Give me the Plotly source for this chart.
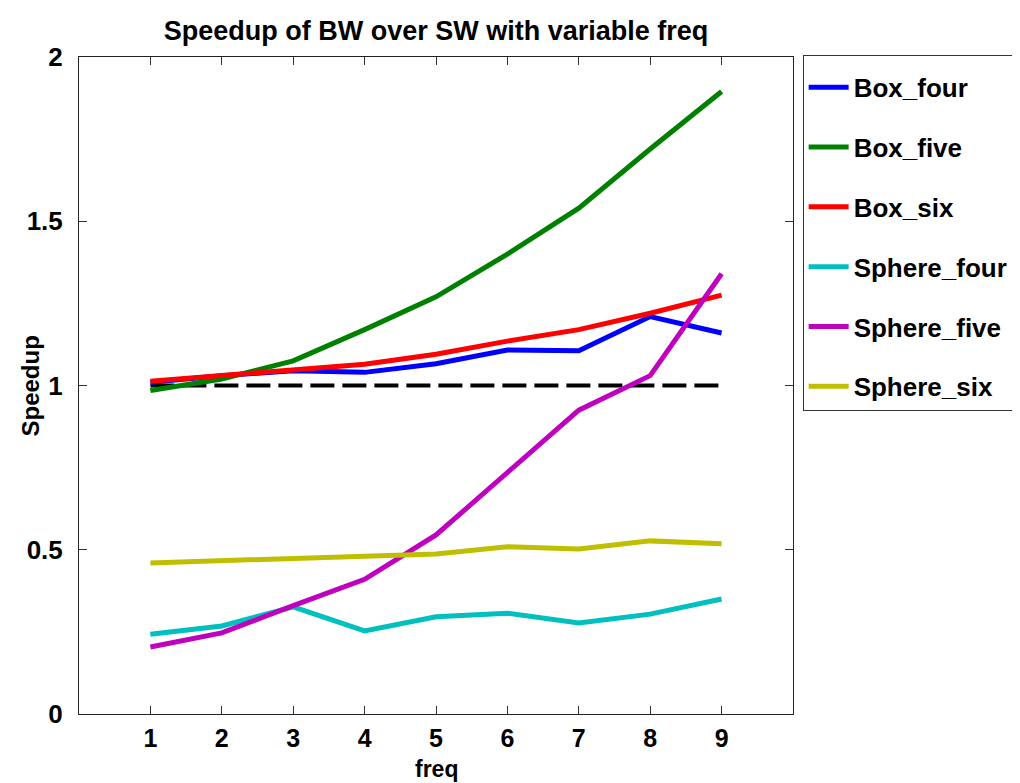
import plotly.graph_objects as go

freq = [1, 2, 3, 4, 5, 6, 7, 8, 9]
box_four = [1.01, 1.03, 1.045, 1.04, 1.066, 1.108, 1.106, 1.21, 1.16]
box_five = [0.985, 1.02, 1.075, 1.17, 1.27, 1.40, 1.54, 1.72, 1.895]
box_six = [1.013, 1.03, 1.045, 1.065, 1.095, 1.135, 1.17, 1.22, 1.275]
sphere_four = [0.243, 0.268, 0.326, 0.253, 0.296, 0.307, 0.277, 0.304, 0.350]
sphere_five = [0.204, 0.247, 0.330, 0.410, 0.545, 0.737, 0.925, 1.03, 1.34]
sphere_six = [0.46, 0.466, 0.475, 0.481, 0.487, 0.509, 0.502, 0.527, 0.518]
baseline = [1, 1, 1, 1, 1, 1, 1, 1, 1]

series = [
    ("Box_four", box_four, "#0000ff"),
    ("Box_five", box_five, "#008000"),
    ("Box_six", box_six, "#ff0000"),
    ("Sphere_four", sphere_four, "#00bfbf"),
    ("Sphere_five", sphere_five, "#bf00bf"),
    ("Sphere_six", sphere_six, "#bfbf00"),
]

FONT = "Liberation Sans, Arial, sans-serif"


def b(s):
    return f"<b>{s}</b>"


fig = go.Figure()
fig.add_trace(go.Scatter(x=freq, y=baseline, mode="lines", showlegend=False,
                         line=dict(color="black", width=4, dash="24px,8px")))
for i, (name, vals, col) in enumerate(series):
    fig.add_trace(go.Scatter(x=freq, y=vals, mode="lines", name=b(name),
                             legendgroup=f"g{i}",
                             line=dict(color=col, width=5)))

fig.update_layout(
    width=1020, height=783,
    paper_bgcolor="white", plot_bgcolor="white",
    margin=dict(l=71, r=235, t=49, b=77),
    title=dict(text=b("Speedup of BW over SW with variable freq"), x=(436 - 8) / 1020, xanchor="center",
               y=1 - 23 / 783, yanchor="middle",
               font=dict(family=FONT, size=27, color="black")),
    font=dict(family=FONT, size=26, color="black"),
    showlegend=True,
    legend=dict(x=1.0135, y=1.003, xanchor="left", yanchor="top",
                bordercolor="#333333", borderwidth=1, bgcolor="white",
                tracegroupgap=23, font=dict(family=FONT, size=26, color="black"),
                title=dict(text=" ", font=dict(size=6)),
                itemwidth=40),
    annotations=[
        dict(text=b("freq"), xref="paper", yref="paper", x=0.5, y=-55 / 657,
             xanchor="center", yanchor="middle", showarrow=False,
             font=dict(family=FONT, size=23, color="black")),
        dict(text=b("Speedup"), xref="paper", yref="paper", x=-49 / 714, y=0.5,
             xanchor="center", yanchor="middle", showarrow=False, textangle=-90,
             font=dict(family=FONT, size=24, color="black")),
    ],
)
fig.update_xaxes(range=[0, 10], tickvals=freq, ticktext=[b(v) for v in freq],
                 ticks="inside", ticklen=8, tickcolor="#333333", mirror="ticks",
                 showline=True, linecolor="#222222", linewidth=1, showgrid=False, zeroline=False,
                 ticklabelstandoff=2, automargin=False,
                 tickfont=dict(size=25))
fig.update_yaxes(range=[0, 2], tickvals=[0, 0.5, 1, 1.5, 2], ticktext=[b(t) for t in ["0", "0.5", "1", "1.5", "2"]],
                 ticks="inside", ticklen=8, tickcolor="#333333", mirror="ticks",
                 showline=True, linecolor="#222222", linewidth=1, showgrid=False, zeroline=False,
                 ticklabelstandoff=10, automargin=False,
                 tickfont=dict(size=26))

fig.write_html("out.html")
